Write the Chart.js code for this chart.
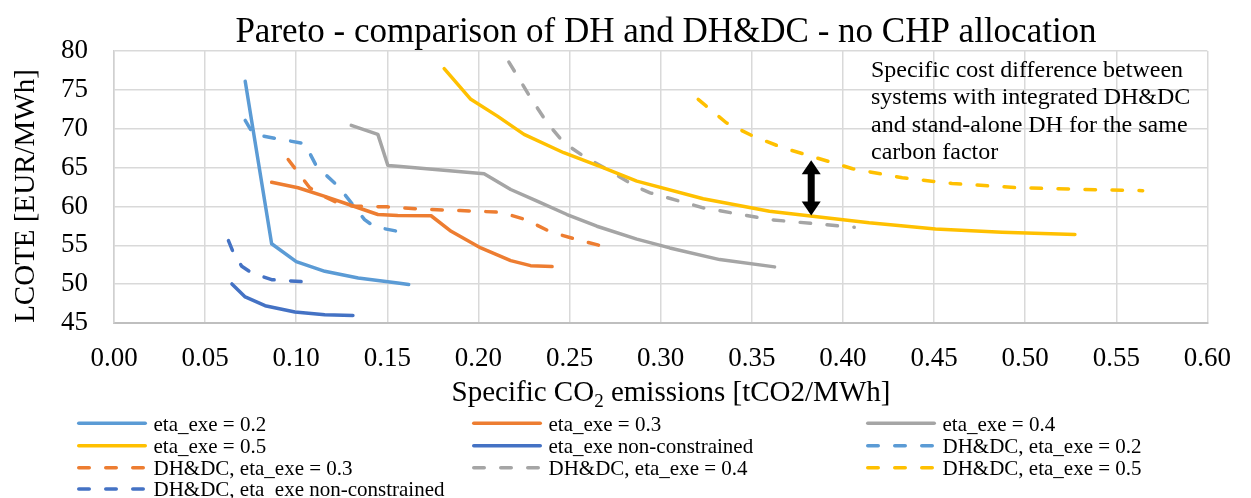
<!DOCTYPE html>
<html>
<head>
<meta charset="utf-8">
<title>Pareto - comparison of DH and DH&amp;DC - no CHP allocation</title>
<script src="https://cdn.jsdelivr.net/npm/chart.js@4.4.1/dist/chart.umd.min.js"></script>
<style>
body { margin: 0; background: #fff; }
#wrap { width: 1251px; height: 498px; position: relative; }
</style>
</head>
<body>
<div id="wrap"><canvas id="myChart"></canvas></div>

<script>
// values: x = specific CO2 [tCO2/MWh], y = LCOTE [EUR/MWh]
var eta02X = [0.072, 0.0865, 0.100, 0.1157, 0.134, 0.1557, 0.1617];
var eta02Y = [76.1, 55.2, 52.9, 51.65, 50.8, 50.15, 49.95];

var eta03X = [0.0865, 0.101, 0.1157, 0.130, 0.1448, 0.1557, 0.174, 0.185, 0.2013, 0.2177, 0.2286, 0.2404];
var eta03Y = [63.1, 62.4, 61.3, 60.15, 58.96, 58.83, 58.8, 56.8, 54.66, 53.03, 52.38, 52.26];

var eta04X = [0.1302, 0.1448, 0.1503, 0.1557, 0.2031, 0.2177, 0.2322, 0.2486, 0.265, 0.2869, 0.305, 0.3324, 0.3625];
var eta04Y = [70.43, 69.27, 65.27, 65.18, 64.2, 62.18, 60.67, 58.96, 57.45, 55.8, 54.66, 53.16, 52.22];

var eta05X = [0.1812, 0.1958, 0.2104, 0.225, 0.2468, 0.2687, 0.2869, 0.3233, 0.3597, 0.3834, 0.4144, 0.4508, 0.4873, 0.5273];
var eta05Y = [77.73, 73.78, 71.62, 69.27, 66.91, 64.97, 63.25, 60.98, 59.38, 58.74, 57.89, 57.11, 56.68, 56.38];

var etaNcX = [0.0647, 0.072, 0.0829, 0.0993, 0.1157, 0.1311];
var etaNcY = [50.03, 48.35, 47.23, 46.42, 46.07, 45.98];

var dhdc02X = [0.072, 0.0765, 0.1047, 0.1111, 0.123, 0.1375, 0.143, 0.1557, 0.1585];
var dhdc02Y = [71.07, 69.27, 68.07, 65.18, 62.6, 58.31, 57.37, 56.8, 56.8];

var dhdc03X = [0.0956, 0.1074, 0.1157, 0.1248, 0.132, 0.150, 0.1576, 0.174, 0.190, 0.2122, 0.2259, 0.2395, 0.2541, 0.2696];
var dhdc03Y = [66.04, 62.4, 61.24, 60.25, 60.03, 59.95, 59.82, 59.6, 59.47, 59.25, 58.31, 56.73, 55.73, 54.8];

var dhdc04X = [0.2167, 0.2286, 0.2377, 0.2468, 0.2577, 0.2723, 0.286, 0.2942, 0.3233, 0.3597, 0.3852, 0.4062];
var dhdc04Y = [78.58, 73.99, 70.77, 68.2, 66.47, 64.54, 62.6, 61.75, 59.82, 58.31, 57.76, 57.32];

var dhdc05X = [0.3206, 0.336, 0.3506, 0.367, 0.3825, 0.4053, 0.4326, 0.4599, 0.4963, 0.5328, 0.5645];
var dhdc05Y = [73.78, 70.77, 69.05, 67.55, 66.47, 64.85, 63.68, 62.95, 62.4, 62.18, 62.03];

var dhdcNcX = [0.0628, 0.0656, 0.0701, 0.0756, 0.0865, 0.1057];
var dhdcNcY = [55.6, 54.0, 52.3, 51.44, 50.58, 50.28];

// axis ranges
var xMin = 0, xMax = 0.6, xStep = 0.05;
var yMin = 45, yMax = 80, yStep = 5;

// the double arrow (data units)
var arrowX = 0.3826, arrowTop = 65.95, arrowBottom = 58.83;

var titleText = 'Pareto - comparison of DH and DH&DC - no CHP allocation';
var yTitle = 'LCOTE [EUR/MWh]';
var noteLines = ['Specific cost difference between', 'systems with integrated DH&DC',
                 'and stand-alone DH for the same', 'carbon factor'];

var serif = '"Liberation Serif", "Times New Roman", serif';
var dash = [10.5, 16.5];

function pts(xs, ys) {
    return xs.map(function(x, i) { return {x: x, y: ys[i]}; });
}

function series(label, xs, ys, color, dashed) {
    return {
        label: label,
        data: pts(xs, ys),
        borderColor: color,
        backgroundColor: color,
        borderWidth: 3.5,
        borderDash: dashed ? dash : [],
        borderCapStyle: 'round',
        borderJoinStyle: 'round',
        showLine: true,
        pointRadius: 0,
        pointHoverRadius: 0,
        fill: false,
        tension: 0
    };
}

var decorations = {
    id: 'decorations',
    afterDraw: function(chart) {
        var ctx = chart.ctx, xs = chart.scales.x, ys = chart.scales.y;
        ctx.save();
        ctx.fillStyle = '#000';
        ctx.textBaseline = 'alphabetic';

        // title
        ctx.font = '35px ' + serif;
        ctx.textAlign = 'center';
        ctx.fillText(titleText, 666, 42);

        // y axis title
        ctx.save();
        ctx.translate(34, 196);
        ctx.rotate(-Math.PI / 2);
        ctx.font = '29px ' + serif;
        ctx.fillText(yTitle, 0, 0);
        ctx.restore();

        // x axis title with subscript
        ctx.textAlign = 'left';
        var big = '29px ' + serif, small = '19px ' + serif;
        var p1 = 'Specific CO', p2 = '2', p3 = ' emissions [tCO2/MWh]';
        ctx.font = big; var w1 = ctx.measureText(p1).width, w3 = ctx.measureText(p3).width;
        ctx.font = small; var w2 = ctx.measureText(p2).width;
        var sx = 671 - (w1 + w2 + w3) / 2, by = 401;
        ctx.font = big; ctx.fillText(p1, sx, by);
        ctx.font = small; ctx.fillText(p2, sx + w1, by + 6);
        ctx.font = big; ctx.fillText(p3, sx + w1 + w2, by);

        // note
        ctx.font = '24px ' + serif;
        noteLines.forEach(function(t, i) {
            ctx.fillText(t, 871, 76.7 + i * 27.5);
        });

        // double arrow
        var ax = xs.getPixelForValue(arrowX);
        var ay1 = ys.getPixelForValue(arrowTop), ay2 = ys.getPixelForValue(arrowBottom);
        ctx.fillRect(ax - 3.5, ay1 + 12, 7, ay2 - ay1 - 24);
        ctx.beginPath();
        ctx.moveTo(ax, ay1); ctx.lineTo(ax + 9.5, ay1 + 14); ctx.lineTo(ax - 9.5, ay1 + 14);
        ctx.closePath(); ctx.fill();
        ctx.beginPath();
        ctx.moveTo(ax, ay2); ctx.lineTo(ax + 9.5, ay2 - 14); ctx.lineTo(ax - 9.5, ay2 - 14);
        ctx.closePath(); ctx.fill();

        // legend, 3 columns
        var colX = [77, 472, 866], rowY = [423.3, 445.7, 467.7, 489];
        ctx.font = '21px ' + serif;
        chart.data.datasets.forEach(function(ds, i) {
            var lx = colX[i % 3], ly = rowY[Math.floor(i / 3)];
            ctx.strokeStyle = ds.borderColor;
            ctx.lineWidth = 3.5;
            ctx.lineCap = 'round';
            ctx.setLineDash(ds.borderDash);
            ctx.beginPath();
            ctx.moveTo(lx + 1.75, ly);
            ctx.lineTo(lx + 68.25, ly);
            ctx.stroke();
            ctx.setLineDash([]);
            ctx.fillText(ds.label, lx + 76.5, ly + 7.3);
        });
        ctx.restore();
    }
};

var ctx = document.getElementById('myChart').getContext('2d');
var myChart = new Chart(ctx, {
    type: 'scatter',
    data: {
        datasets: [
            series('eta_exe = 0.2', eta02X, eta02Y, '#5B9BD5', false),
            series('eta_exe = 0.3', eta03X, eta03Y, '#ED7D31', false),
            series('eta_exe = 0.4', eta04X, eta04Y, '#A5A5A5', false),
            series('eta_exe = 0.5', eta05X, eta05Y, '#FFC000', false),
            series('eta_exe non-constrained', etaNcX, etaNcY, '#4472C4', false),
            series('DH&DC, eta_exe = 0.2', dhdc02X, dhdc02Y, '#5B9BD5', true),
            series('DH&DC, eta_exe = 0.3', dhdc03X, dhdc03Y, '#ED7D31', true),
            series('DH&DC, eta_exe = 0.4', dhdc04X, dhdc04Y, '#A5A5A5', true),
            series('DH&DC, eta_exe = 0.5', dhdc05X, dhdc05Y, '#FFC000', true),
            series('DH&DC, eta_exe non-constrained', dhdcNcX, dhdcNcY, '#4472C4', true)
        ]
    },
    options: {
        responsive: true,
        maintainAspectRatio: false,
        animation: false,
        devicePixelRatio: 1,
        layout: { padding: { top: 51, right: 38, bottom: 125, left: 0 } },
        plugins: {
            legend: { display: false },
            title: { display: false },
            tooltip: { enabled: false }
        },
        scales: {
            x: {
                type: 'linear',
                min: xMin, max: xMax,
                afterFit: function(scale) { scale.height = 50; },
                ticks: {
                    stepSize: xStep,
                    color: '#000',
                    padding: 20,
                    maxRotation: 0,
                    font: { family: serif, size: 27 },
                    callback: function(v) { return v.toFixed(2); }
                },
                grid: { color: '#d9d9d9', lineWidth: 1.5, drawTicks: false },
                border: { color: '#bfbfbf', width: 2 }
            },
            y: {
                min: yMin, max: yMax,
                afterFit: function(scale) { scale.width = 114; },
                ticks: {
                    stepSize: yStep,
                    color: '#000',
                    padding: 26,
                    font: { family: serif, size: 27 }
                },
                grid: { color: '#d9d9d9', lineWidth: 1.5, drawTicks: false },
                border: { color: '#d0d0d0', width: 1.5 }
            }
        }
    },
    plugins: [decorations]
});
</script>
</body>
</html>
